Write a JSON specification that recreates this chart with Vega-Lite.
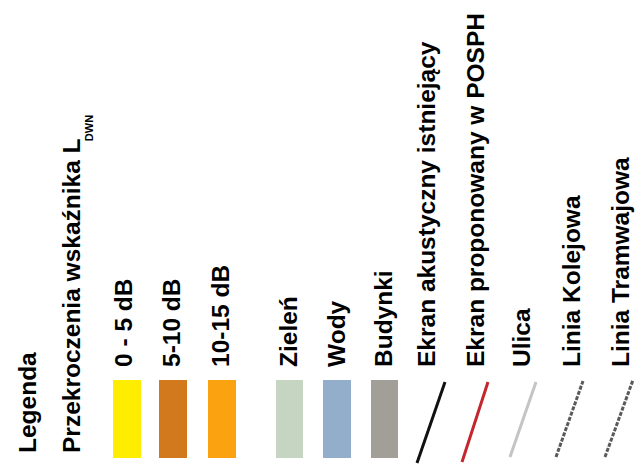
{
  "$schema": "https://vega.github.io/schema/vega-lite/v6.json",
  "width": 642,
  "height": 465,
  "autosize": {"type": "fit", "contains": "padding"},
  "padding": 0,
  "background": "white",
  "config": {"view": {"stroke": null}},
  "datasets": {
    "labels": [
      {"label": "Legenda", "x": 29, "y": 453},
      {"label": "Przekroczenia wskaźnika L", "x": 73, "y": 453},
      {"label": "0 - 5 dB", "x": 125, "y": 367},
      {"label": "5-10 dB", "x": 173, "y": 367},
      {"label": "10-15 dB", "x": 222, "y": 367},
      {"label": "Zieleń", "x": 290, "y": 367},
      {"label": "Wody", "x": 338, "y": 367},
      {"label": "Budynki", "x": 385, "y": 367},
      {"label": "Ekran akustyczny istniejący", "x": 428, "y": 367},
      {"label": "Ekran proponowany w POSPH", "x": 477, "y": 367},
      {"label": "Ulica", "x": 523, "y": 367},
      {"label": "Linia Kolejowa", "x": 573, "y": 367},
      {"label": "Linia Tramwajowa", "x": 622, "y": 367}
    ],
    "sub": [
      {"label": "DWN", "x": 90, "y": 128}
    ],
    "swatches": [
      {"label": "0 - 5 dB", "x": 113, "x2": 141, "y": 380, "y2": 458},
      {"label": "5-10 dB", "x": 159, "x2": 187, "y": 380, "y2": 458},
      {"label": "10-15 dB", "x": 208, "x2": 236, "y": 380, "y2": 458},
      {"label": "Zieleń", "x": 276, "x2": 303, "y": 380, "y2": 458},
      {"label": "Wody", "x": 323, "x2": 351, "y": 380, "y2": 458},
      {"label": "Budynki", "x": 371, "x2": 398, "y": 380, "y2": 458}
    ],
    "lines": [
      {"label": "Ekran akustyczny istniejący", "x": 417, "y": 463, "x2": 445, "y2": 382},
      {"label": "Ekran proponowany w POSPH", "x": 462, "y": 462, "x2": 488, "y2": 382},
      {"label": "Ulica", "x": 510, "y": 457, "x2": 536, "y2": 382},
      {"label": "Linia Kolejowa", "x": 556, "y": 457, "x2": 583, "y2": 381},
      {"label": "Linia Tramwajowa", "x": 605, "y": 457, "x2": 633, "y2": 380}
    ]
  },
  "layer": [
    {
      "data": {"name": "swatches"},
      "mark": {"type": "rect"},
      "encoding": {
        "x": {"field": "x", "type": "quantitative", "scale": {"domain": [0, 642], "nice": false, "zero": false}, "axis": null},
        "x2": {"field": "x2"},
        "y": {"field": "y", "type": "quantitative", "scale": {"domain": [0, 465], "nice": false, "zero": false, "reverse": true}, "axis": null},
        "y2": {"field": "y2"},
        "color": {
          "field": "label", "type": "nominal", "legend": null,
          "scale": {
            "domain": ["0 - 5 dB", "5-10 dB", "10-15 dB", "Zieleń", "Wody", "Budynki"],
            "range": ["#FFED00", "#D2791E", "#FBA211", "#C6D4C2", "#93AECB", "#A29F99"]
          }
        }
      }
    },
    {
      "data": {"name": "lines"},
      "mark": {"type": "rule", "strokeCap": "butt"},
      "encoding": {
        "x": {"field": "x", "type": "quantitative", "scale": {"domain": [0, 642], "nice": false, "zero": false}, "axis": null},
        "x2": {"field": "x2"},
        "y": {"field": "y", "type": "quantitative", "scale": {"domain": [0, 465], "nice": false, "zero": false, "reverse": true}, "axis": null},
        "y2": {"field": "y2"},
        "stroke": {
          "field": "label", "type": "nominal", "legend": null,
          "scale": {
            "domain": ["Ekran akustyczny istniejący", "Ekran proponowany w POSPH", "Ulica", "Linia Kolejowa", "Linia Tramwajowa"],
            "range": ["#111111", "#C3262C", "#C4C4C4", "#5A5A5A", "#5A5A5A"]
          }
        },
        "strokeWidth": {
          "field": "label", "type": "ordinal", "legend": null,
          "scale": {
            "domain": ["Ekran akustyczny istniejący", "Ekran proponowany w POSPH", "Ulica", "Linia Kolejowa", "Linia Tramwajowa"],
            "range": [3, 3, 1, 1.2, 1.2]
          }
        },
        "strokeDash": {
          "field": "label", "type": "nominal", "legend": null,
          "scale": {
            "domain": ["Ekran akustyczny istniejący", "Ekran proponowany w POSPH", "Ulica", "Linia Kolejowa", "Linia Tramwajowa"],
            "range": [[1, 0], [1, 0], [1, 0], [4, 1.5], [4, 1.5]]
          }
        }
      }
    },
    {
      "data": {"name": "labels"},
      "mark": {"type": "text", "angle": 270, "align": "left", "baseline": "middle", "fontSize": 24.5, "fontWeight": "bold", "font": "Liberation Sans, Arial, sans-serif", "color": "black"},
      "encoding": {
        "x": {"field": "x", "type": "quantitative", "scale": {"domain": [0, 642], "nice": false, "zero": false}, "axis": null},
        "y": {"field": "y", "type": "quantitative", "scale": {"domain": [0, 465], "nice": false, "zero": false, "reverse": true}, "axis": null},
        "text": {"field": "label"}
      }
    },
    {
      "data": {"name": "sub"},
      "mark": {"type": "text", "angle": 270, "align": "center", "baseline": "middle", "fontSize": 11, "fontWeight": "bold", "font": "Liberation Sans, Arial, sans-serif", "color": "black"},
      "encoding": {
        "x": {"field": "x", "type": "quantitative", "scale": {"domain": [0, 642], "nice": false, "zero": false}, "axis": null},
        "y": {"field": "y", "type": "quantitative", "scale": {"domain": [0, 465], "nice": false, "zero": false, "reverse": true}, "axis": null},
        "text": {"field": "label"}
      }
    }
  ]
}
